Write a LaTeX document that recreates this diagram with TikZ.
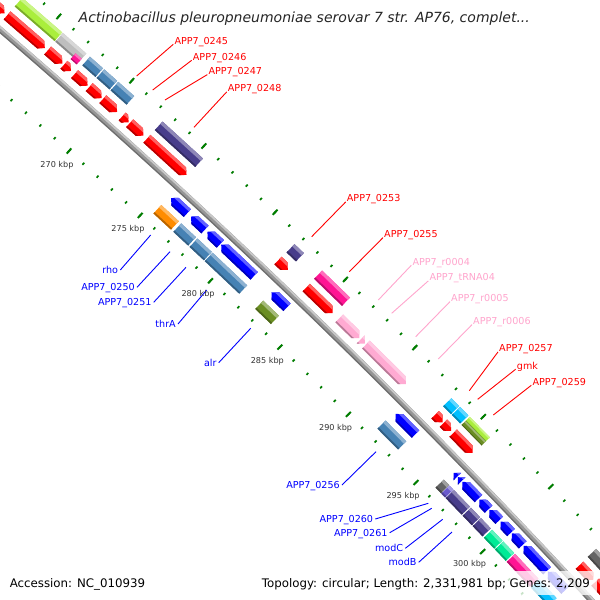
\documentclass[tikz,border=0pt]{standalone}
\usepackage{fontspec}
\newfontfamily\djfont{DejaVu Sans}
\makeatletter
\tikzdeclarecoordinatesystem{g}{\g@point#1\relax}
\def\g@point#1,#2\relax{%
  \pgfmathsetmacro\g@u{((#1)-285.146)*19.3265}%
  \pgfmathsetmacro\g@r{7173.3+(#2)}%
  \pgfmathsetmacro\g@p{(\g@r)/7173.3}%
  \pgfmathsetmacro\g@q{(\g@u)/119.777}%
  \pgfmathsetmacro\g@rc{(\g@r)-(\g@p)*(\g@q)*(\g@q)}%
  \pgfmathsetmacro\g@w{(\g@u)/100}%
  \pgfmathsetmacro\g@rs{0-(\g@p)*(\g@u)+(\g@p)*(\g@w)*(\g@w)*(\g@w)*0.0032391}%
  \pgfmathsetmacro\g@x{-4677.5+0.695976*(\g@rc)-0.718066*(\g@rs)}%
  \pgfmathsetmacro\g@y{-5465.9+0.718066*(\g@rc)+0.695976*(\g@rs)}%
  \pgfqpoint{\g@x pt}{\g@y pt}}
\makeatother
\definecolor{cRed}{RGB}{255,0,0}
\definecolor{cBlue}{RGB}{0,0,255}
\definecolor{cGY}{RGB}{170,238,60}
\definecolor{cSilver}{RGB}{190,190,190}
\definecolor{cDeepPink}{RGB}{255,20,147}
\definecolor{cSteel}{RGB}{70,130,180}
\definecolor{cDSB}{RGB}{72,61,139}
\definecolor{cOrange}{RGB}{255,140,0}
\definecolor{cOlive}{RGB}{107,142,35}
\definecolor{cSky}{RGB}{0,191,255}
\definecolor{cSpring}{RGB}{0,235,150}
\definecolor{cMSB}{RGB}{106,90,205}
\definecolor{cDim}{RGB}{100,100,100}
\definecolor{cRNA}{RGB}{255,170,210}
\definecolor{cPinkL}{RGB}{255,165,205}
\definecolor{cTick}{RGB}{0,125,0}
\definecolor{bbMid}{RGB}{150,150,150}
\definecolor{bbLight}{RGB}{200,200,200}
\definecolor{bbDark}{RGB}{110,110,110}
% feature: k1, k2, d-low, d-high, type (0 box, 1 forward arrow, 2 reverse arrow), colour
\newcommand\feat[6]{%
  \pgfmathsetmacro\fh{min(0.28,(#2)-(#1))}%
  \pgfmathsetmacro\fm{((#3)+(#4))/2}%
  \pgfmathsetmacro\fl{(#4)-0.28*((#4)-(#3))}%
  \pgfmathsetmacro\fd{(#3)+0.16*((#4)-(#3))}%
  \begin{scope}
    \ifcase#5\relax
      \clip (g cs:#1,#3) -- (g cs:#1,#4) -- (g cs:#2,#4) -- (g cs:#2,#3) -- cycle;
    \or
      \clip (g cs:#1,#3) -- (g cs:#1,#4) -- (g cs:#2-\fh,#4) -- (g cs:#2,\fm) -- (g cs:#2-\fh,#3) -- cycle;
    \or
      \clip (g cs:#1,\fm) -- (g cs:#1+\fh,#4) -- (g cs:#2,#4) -- (g cs:#2,#3) -- (g cs:#1+\fh,#3) -- cycle;
    \fi
    \fill[#6] (g cs:#1-1,#3-1) -- (g cs:#1-1,#4+1) -- (g cs:#2+1,#4+1) -- (g cs:#2+1,#3-1) -- cycle;
    \fill[#6!62!white] (g cs:#1-1,\fl) -- (g cs:#1-1,#4+1) -- (g cs:#2+1,#4+1) -- (g cs:#2+1,\fl) -- cycle;
    \fill[#6!72!black] (g cs:#1-1,#3-1) -- (g cs:#1-1,\fd) -- (g cs:#2+1,\fd) -- (g cs:#2+1,#3-1) -- cycle;
  \end{scope}}
\begin{document}
\begin{tikzpicture}[x=1pt,y=-1pt,
  lbl/.style={font=\djfont\fontsize{9.6}{10}\selectfont, inner sep=0pt, text height=7pt, text depth=0pt},
  rlab/.style={lbl, text=cRed, anchor=south west},
  plab/.style={lbl, text=cPinkL, anchor=south west},
  blab/.style={lbl, text=cBlue, anchor=east},
  rline/.style={cRed, line width=0.9pt},
  pline/.style={cPinkL, line width=0.9pt},
  bline/.style={cBlue, line width=0.9pt},
  kbp/.style={font=\djfont\fontsize{8.1}{9}\selectfont, text=black!80, inner sep=0pt, text height=5.8pt, text depth=0pt, anchor=center},
  minortick/.style={cTick, line width=1.7pt},
  majortick/.style={cTick, line width=2pt},
  bb/.style={line width=#1}]
\useasboundingbox (0,0) rectangle (600,600);
\fill[white] (0,0) rectangle (600,600);
\begin{scope}
\clip (0,0) rectangle (600,600);
% ticks
\foreach \k in {255,...,310}{
  \draw[minortick] (g cs:\k,45.4) -- (g cs:\k,48.2);
  \draw[minortick] (g cs:\k,-48.8) -- (g cs:\k,-46.0);
}
\foreach \k in {255,260,...,310}{
  \draw[majortick] (g cs:\k,43.3) -- (g cs:\k,50.3);
  \draw[majortick] (g cs:\k,-50.9) -- (g cs:\k,-43.9);
}
% backbone
\draw[bb=6pt, bbMid] plot[domain=255:310, samples=56] (g cs:\x,-1.5);
\draw[bb=1.8pt, bbLight] plot[domain=255:310, samples=56] (g cs:\x,0.4);
\draw[bb=1.2pt, bbDark] plot[domain=255:310, samples=56] (g cs:\x,-3.8);
% forward CDS
\feat{258}{262.78}{8.5}{19}{1}{cRed}
\feat{262.95}{265.53}{8.5}{19}{1}{cRed}
\feat{265.72}{266.74}{8.5}{19}{1}{cRed}
\feat{266.84}{267.32}{8.5}{19}{1}{cRed}
\feat{267.57}{268.47}{8.5}{19}{1}{cRed}
\feat{268.58}{269.44}{8.5}{19}{1}{cRed}
\feat{269.52}{270.51}{8.5}{19}{1}{cRed}
\feat{270.86}{271.31}{8.5}{19}{1}{cRed}
\feat{271.38}{272.34}{8.5}{19}{1}{cRed}
\feat{272.58}{275.35}{8.5}{19}{1}{cRed}
\feat{281.82}{282.52}{8.5}{19}{1}{cRed}
\feat{283.84}{285.74}{8.5}{19}{1}{cRed}
\feat{286.17}{287.62}{9}{20}{1}{cRNA}
\feat{287.72}{288.02}{9}{20}{1}{cRNA}
\feat{288.1}{291.0}{9}{20}{1}{cRNA}
\feat{293.19}{293.74}{8.5}{19}{1}{cRed}
\feat{293.80}{294.36}{8.5}{19}{1}{cRed}
\feat{294.52}{295.95}{8.5}{19}{1}{cRed}
\feat{303.96}{305.0}{8.5}{19}{1}{cRed}
\feat{305.15}{308}{8.5}{19}{1}{cRed}
% outer COG
\feat{262.95}{265.67}{25.5}{37}{0}{cGY}
\feat{265.72}{267.32}{25.5}{37}{0}{cSilver}
\feat{266.9}{267.32}{22.5}{30}{0}{cDeepPink}
\feat{267.57}{268.47}{25.5}{37}{0}{cSteel}
\feat{268.55}{269.44}{25.5}{37}{0}{cSteel}
\feat{269.52}{270.62}{25.5}{37}{0}{cSteel}
\feat{272.58}{275.40}{25.5}{37}{0}{cDSB}
\feat{281.85}{282.52}{25.5}{37}{0}{cDSB}
\feat{283.82}{285.82}{25.5}{37}{0}{cDeepPink}
\feat{293.17}{293.74}{25.5}{37}{0}{cSky}
\feat{293.80}{294.42}{25.5}{37}{0}{cSky}
\feat{294.52}{296.0}{31}{37}{0}{cGY}
\feat{294.52}{296.0}{25.5}{31}{0}{cOlive}
\feat{303.93}{306.5}{25.5}{37}{0}{cDim}
% reverse CDS
\feat{275.57}{276.72}{-19}{-8.5}{2}{cBlue}
\feat{276.98}{277.97}{-19}{-8.5}{2}{cBlue}
\feat{278.14}{279.06}{-19}{-8.5}{2}{cBlue}
\feat{279.12}{281.47}{-19}{-8.5}{2}{cBlue}
\feat{282.71}{283.83}{-19}{-8.5}{2}{cBlue}
\feat{291.72}{293.19}{-19}{-8.5}{2}{cBlue}
\feat{296.0}{296.28}{-19}{-8.5}{2}{cBlue}
\feat{296.32}{296.6}{-19}{-8.5}{2}{cBlue}
\feat{296.66}{297.86}{-19}{-8.5}{2}{cBlue}
\feat{297.93}{298.62}{-19}{-8.5}{2}{cBlue}
\feat{298.68}{299.42}{-19}{-8.5}{2}{cBlue}
\feat{299.52}{300.30}{-19}{-8.5}{2}{cBlue}
\feat{300.36}{301.18}{-19}{-8.5}{2}{cBlue}
\feat{301.25}{303.02}{-19}{-8.5}{2}{cBlue}
\feat{303.09}{304.4}{-19}{-8.5}{2}{cBlue}
% inner COG
\feat{275.44}{276.68}{-37}{-25.5}{0}{cOrange}
\feat{276.85}{277.90}{-37}{-25.5}{0}{cSteel}
\feat{278.0}{279.02}{-37}{-25.5}{0}{cSteel}
\feat{279.08}{281.55}{-37}{-25.5}{0}{cSteel}
\feat{282.70}{283.83}{-37}{-25.5}{0}{cOlive}
\feat{291.6}{293.12}{-37}{-25.5}{0}{cSteel}
\feat{295.9}{296.3}{-37}{-25.5}{0}{cDim}
\feat{296.33}{296.62}{-37}{-25.5}{0}{cMSB}
\feat{296.66}{297.86}{-37}{-25.5}{0}{cDSB}
\feat{297.93}{298.62}{-37}{-25.5}{0}{cDSB}
\feat{298.68}{299.42}{-37}{-25.5}{0}{cDSB}
\feat{299.52}{300.30}{-37}{-25.5}{0}{cSpring}
\feat{300.36}{301.18}{-37}{-25.5}{0}{cSpring}
\feat{301.25}{303.02}{-37}{-25.5}{0}{cDeepPink}
\feat{303.09}{304.4}{-37}{-25.5}{0}{cSky}
\end{scope}
% label end points
\coordinate (e245) at (136.7,76);
\coordinate (e246) at (152.7,90);
\coordinate (e247) at (165,100);
\coordinate (e248) at (194,127.3);
\coordinate (e253) at (311.7,236.7);
\coordinate (e255) at (349.3,271.7);
\coordinate (e257) at (469.3,390.7);
\coordinate (egmk) at (477.7,399.3);
\coordinate (e259) at (493.3,415);
\coordinate (er4) at (378.3,300);
\coordinate (et4) at (391.7,313.3);
\coordinate (er5) at (415.7,336.7);
\coordinate (er6) at (438.3,359);
\coordinate (erho) at (150.7,235);
\coordinate (e250) at (170,251.7);
\coordinate (e251) at (186,267.3);
\coordinate (ethr) at (206.7,290);
\coordinate (ealr) at (250.7,328.3);
\coordinate (e256) at (376,451.7);
\coordinate (e260) at (428.3,503.3);
\coordinate (e261) at (431.7,508.3);
\coordinate (emodC) at (442.7,519.3);
\coordinate (emodB) at (452,532);
% red labels
\node[rlab] (l245) at (174.3,44.3) {APP7\_0245};
\node[rlab] (l246) at (192.7,60.3) {APP7\_0246};
\node[rlab] (l247) at (208.3,74.6) {APP7\_0247};
\node[rlab] (l248) at (227.7,91.9) {APP7\_0248};
\node[rlab] (l253) at (346.7,201.9) {APP7\_0253};
\node[rlab] (l255) at (384,237.6) {APP7\_0255};
\node[rlab] (l257) at (499,351.9) {APP7\_0257};
\node[rlab] (lgmk) at (516.7,369.2) {gmk};
\node[rlab] (l259) at (532.3,385.3) {APP7\_0259};
\foreach \n in {245,246,247,248,253,255,257,gmk,259}{
  \draw[rline] ([xshift=-1pt]l\n.south west) -- (e\n);
}
% pink labels
\node[plab] (lr4) at (412.3,265.3) {APP7\_r0004};
\node[plab] (lt4) at (429.3,280.9) {APP7\_tRNA04};
\node[plab] (lr5) at (451,301.6) {APP7\_r0005};
\node[plab] (lr6) at (473,324.6) {APP7\_r0006};
\foreach \n in {r4,t4,r5,r6}{
  \draw[pline] ([xshift=-1pt]l\n.south west) -- (e\n);
}
% blue labels
\node[blab] (lrho) at (118.3,270) {rho};
\node[blab] (l250) at (135,287.3) {APP7\_0250};
\node[blab] (l251) at (151.7,302.3) {APP7\_0251};
\node[blab] (lthr) at (176,324) {thrA};
\node[blab] (lalr) at (216.7,362.7) {alr};
\node[blab] (l256) at (340,485) {APP7\_0256};
\node[blab] (l260) at (373.3,519) {APP7\_0260};
\node[blab] (l261) at (387.7,532.7) {APP7\_0261};
\node[blab] (lmodC) at (403.3,548.3) {modC};
\node[blab] (lmodB) at (416.7,562.3) {modB};
\foreach \n in {rho,250,251,thr,alr,256,260,261,modC,modB}{
  \draw[bline] ([xshift=2pt]l\n.east) -- (e\n);
}
% kbp labels
\foreach \k in {270,275,...,300}{
  \node[kbp] (k\k) at (g cs:\k,-65.5) {\k\ kbp};
}
% title
\node[font=\djfont\itshape\fontsize{14}{16}\selectfont, anchor=base west, inner sep=0pt, text=black!85] (title) at (78.5,22.7) {Actinobacillus pleuropneumoniae serovar 7 str. AP76, complet...};
% legend
\fill[white, fill opacity=0.78] (257,571) rectangle (597,595);
\node[font=\djfont\fontsize{11.8}{13}\selectfont, anchor=base west, inner sep=0pt] (acc) at (9.6,587.5) {Accession: NC\_010939};
\node[font=\djfont\fontsize{11.8}{13}\selectfont, anchor=base west, inner sep=0pt] (topo) at (261.7,587.5) {Topology: circular; Length: 2,331,981 bp; Genes: 2,209};
\end{tikzpicture}
\end{document}
